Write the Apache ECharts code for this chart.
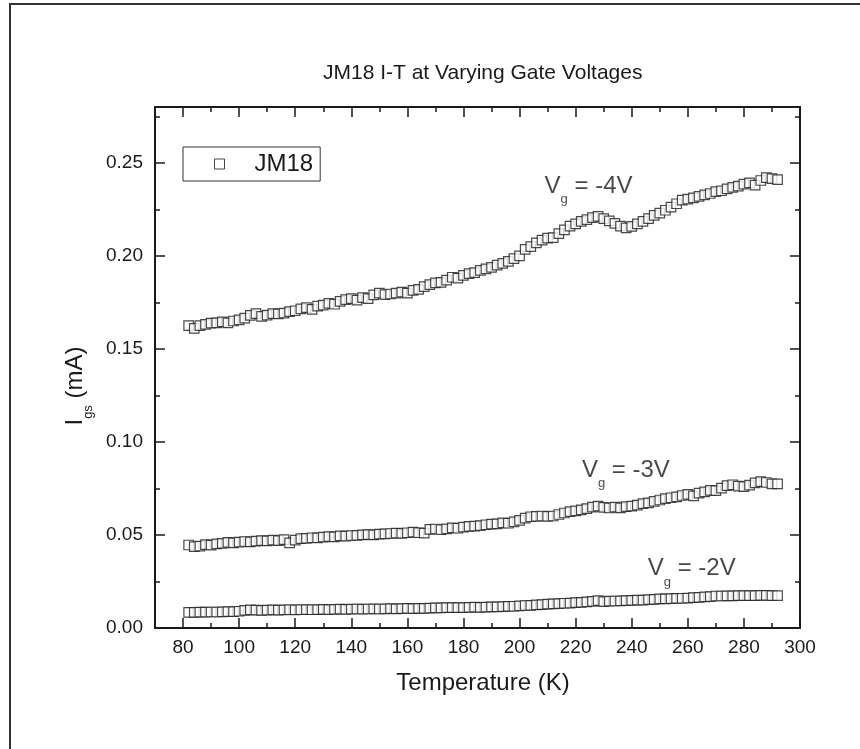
<!DOCTYPE html>
<html>
<head>
<meta charset="utf-8">
<script src="https://cdn.jsdelivr.net/npm/echarts@6/dist/echarts.min.js"></script>
<style>
html,body{margin:0;padding:0;background:#fff;}
#wrap{position:relative;width:860px;height:749px;overflow:hidden;}
#chart{position:absolute;left:0;top:0;width:860px;height:749px;}
#frame{position:absolute;left:9px;top:3px;width:900px;height:800px;border-left:2px solid #333;border-top:2px solid #333;pointer-events:none;}
</style>
</head>
<body>
<div id="wrap"><div id="chart"></div><div id="frame"></div></div>
<script>
// ---- data ----
const temps = [82,84,86,88,90,92,94,96,98,100,
102,104,106,108,110,112,114,116,118,120,
122,124,126,128,130,132,134,136,138,140,
142,144,146,148,150,152,154,156,158,160,
162,164,166,168,170,172,174,176,178,180,
182,184,186,188,190,192,194,196,198,200,
202,204,206,208,210,212,214,216,218,220,
222,224,226,228,230,232,234,236,238,240,
242,244,246,248,250,252,254,256,258,260,
262,264,266,268,270,272,274,276,278,280,
282,284,286,288,290,292];

const igsVg4 = [.1625,.1610,.1625,.1632,.1638,.1640,.1645,.1640,.1650,.1656,
.1665,.1680,.1690,.1675,.1682,.1690,.1688,.1692,.1700,.1705,
.1715,.1722,.1712,.1730,.1735,.1745,.1740,.1755,.1765,.1770,
.1762,.1775,.1770,.1790,.1800,.1792,.1795,.1800,.1805,.1800,
.1815,.1820,.1835,.1845,.1855,.1858,.1870,.1885,.1880,.1895,
.1905,.1910,.1922,.1930,.1938,.1950,.1960,.1970,.1985,.2000,
.2035,.2050,.2070,.2085,.2095,.2098,.2120,.2140,.2160,.2172,
.2185,.2195,.2205,.2212,.2200,.2188,.2175,.2160,.2150,.2158,
.2172,.2185,.2200,.2218,.2230,.2245,.2262,.2280,.2300,.2305,
.2312,.2320,.2328,.2335,.2345,.2350,.2360,.2368,.2375,.2385,
.2392,.2380,.2405,.2420,.2415,.2410];

const igsVg3 = [.0446,.0437,.0440,.0448,.0445,.0452,.0455,.0460,.0458,.0462,
.0465,.0463,.0467,.0470,.0468,.0472,.0470,.0475,.0458,.0472,
.0480,.0482,.0485,.0484,.0488,.0491,.0490,.0495,.0494,.0497,
.0498,.0500,.0502,.0501,.0505,.0506,.0508,.0510,.0509,.0512,
.0515,.0512,.0510,.0530,.0532,.0528,.0533,.0538,.0536,.0542,
.0546,.0548,.0550,.0555,.0558,.0560,.0565,.0563,.0570,.0578,
.0590,.0598,.0600,.0602,.0600,.0602,.0610,.0618,.0625,.0630,
.0635,.0642,.0650,.0655,.0648,.0645,.0650,.0646,.0652,.0655,
.0660,.0668,.0672,.0680,.0688,.0695,.0700,.0705,.0712,.0718,
.0710,.0725,.0732,.0740,.0738,.0752,.0765,.0770,.0762,.0760,
.0768,.0780,.0787,.0782,.0775,.0775];

const igsVg2 = [.0084,.0084,.0085,.0085,.0086,.0086,.0087,.0088,.0088,.0090,
.0095,.0097,.0096,.0095,.0096,.0097,.0096,.0097,.0098,.0097,
.0098,.0099,.0098,.0099,.0100,.0099,.0100,.0101,.0100,.0101,
.0102,.0101,.0102,.0103,.0102,.0103,.0104,.0103,.0104,.0105,
.0104,.0106,.0105,.0107,.0108,.0108,.0109,.0110,.0109,.0110,
.0111,.0112,.0111,.0112,.0113,.0114,.0115,.0116,.0117,.0119,
.0121,.0122,.0124,.0126,.0128,.0130,.0131,.0133,.0134,.0136,
.0138,.0140,.0143,.0147,.0142,.0144,.0145,.0146,.0147,.0148,
.0150,.0150,.0152,.0154,.0156,.0157,.0158,.0159,.0160,.0161,
.0163,.0165,.0167,.0169,.0172,.0172,.0173,.0173,.0174,.0174,
.0174,.0174,.0175,.0175,.0174,.0174];

const xMajorTicks = [80,100,120,140,160,180,200,220,240,260,280,300];
const xMinorTicks = [90,110,130,150,170,190,210,230,250,270,290];
const yMajorTicks = [0,0.05,0.10,0.15,0.20,0.25];
const yMinorTicks = [0.025,0.075,0.125,0.175,0.225,0.275];

const annotTemps = [224.6, 237.9, 261.4];
const annotIgs = [0.2374, 0.0849, 0.0320];
const annotVoltages = ['-4V', '-3V', '-2V'];

const seriesName = 'JM18';
const titleText = 'JM18 I-T at Varying Gate Voltages';
const xName = 'Temperature (K)';

// ---- chart ----
const FONT = 'Liberation Sans, Arial, sans-serif';
const INK = '#1a1a1a';
const chart = echarts.init(document.getElementById('chart'), null, {renderer: 'canvas'});

function zip(xs, ys) { return xs.map((x, i) => [x, ys[i]]); }

const subRich = {
  m: {fontSize: 24, lineHeight: 40, fontFamily: FONT, color: INK},
  s: {fontSize: 13, lineHeight: 13, fontFamily: FONT, color: INK, verticalAlign: 'bottom'}
};

function xAx(pos, ticks, len, showLine, showLabel) {
  return {
    type: 'value', position: pos, min: 70, max: 300, gridIndex: 0,
    axisLine: {show: showLine, onZero: false, lineStyle: {color: INK, width: 2}},
    axisTick: {show: true, inside: true, length: len, customValues: ticks, lineStyle: {color: INK, width: 1.5}},
    axisLabel: {show: showLabel, customValues: ticks, fontSize: 19, fontFamily: FONT, color: INK, margin: 10},
    splitLine: {show: false}
  };
}
function yAx(pos, ticks, len, showLine, showLabel) {
  return {
    type: 'value', position: pos, min: 0, max: 0.28, gridIndex: 0,
    axisLine: {show: showLine, onZero: false, lineStyle: {color: INK, width: 2}},
    axisTick: {show: true, inside: true, length: len, customValues: ticks, lineStyle: {color: INK, width: 1.5}},
    axisLabel: {show: showLabel, customValues: ticks, fontSize: 19, fontFamily: FONT, color: INK, margin: 12,
      formatter: v => v.toFixed(2)},
    splitLine: {show: false}
  };
}

const xAxes = [
  xAx('bottom', xMajorTicks, 10, true, true),
  xAx('bottom', xMinorTicks, 5, false, false),
  xAx('top', xMajorTicks, 10, true, false),
  xAx('top', xMinorTicks, 5, false, false)
];
xAxes[0].name = xName;
xAxes[0].nameLocation = 'middle';
xAxes[0].nameGap = 43;
xAxes[0].nameTextStyle = {fontSize: 24, fontFamily: FONT, color: INK, padding: [0, 0, 0, 11]};

const yAxes = [
  yAx('left', yMajorTicks, 10, true, true),
  yAx('left', yMinorTicks, 5, false, false),
  yAx('right', yMajorTicks, 10, true, false),
  yAx('right', yMinorTicks, 5, false, false)
];
yAxes[0].name = '{m|I}{s|gs}{m| (mA)}';
yAxes[0].nameLocation = 'middle';
yAxes[0].nameGap = 49;
yAxes[0].nameRotate = 90;
yAxes[0].nameTextStyle = {rich: subRich, padding: [0, 37, 0, 0]};

const markerStyle = {color: '#fff', borderColor: INK, borderWidth: 1.2};

function dataSeries(vals) {
  return {
    name: seriesName, type: 'scatter', xAxisIndex: 0, yAxisIndex: 0,
    symbol: 'rect', symbolSize: 9.5,
    itemStyle: markerStyle,
    emphasis: {disabled: true},
    data: zip(temps, vals)
  };
}

const annotSeries = {
  name: 'annot', type: 'scatter', xAxisIndex: 0, yAxisIndex: 0,
  symbolSize: 0, silent: true,
  itemStyle: {color: 'rgba(0,0,0,0)'},
  label: {
    show: true, position: 'inside',
    formatter: p => '{m|V}{s|g}{m| = ' + annotVoltages[p.dataIndex] + '}',
    rich: subRich
  },
  data: zip(annotTemps, annotIgs)
};

chart.setOption({
  animation: false,
  backgroundColor: '#fff',
  title: {
    text: titleText, left: 318, top: 58,
    textStyle: {fontSize: 21, fontWeight: 'normal', fontFamily: FONT, color: INK}
  },
  legend: {
    data: [seriesName], left: 183, top: 147,
    orient: 'horizontal',
    itemWidth: 10, itemHeight: 10,
    padding: [5, 7, 5, 31],
    borderColor: '#333', borderWidth: 1,
    icon: 'rect',
    itemStyle: {color: '#fff', borderColor: INK, borderWidth: 1},
    textStyle: {fontSize: 24, fontFamily: FONT, color: INK, padding: [0, 0, 0, 25]},
    selectedMode: false
  },
  grid: {left: 155, right: 60, top: 107, bottom: 121, containLabel: false},
  xAxis: xAxes,
  yAxis: yAxes,
  series: [dataSeries(igsVg4), dataSeries(igsVg3), dataSeries(igsVg2), annotSeries]
});
</script>
</body>
</html>
